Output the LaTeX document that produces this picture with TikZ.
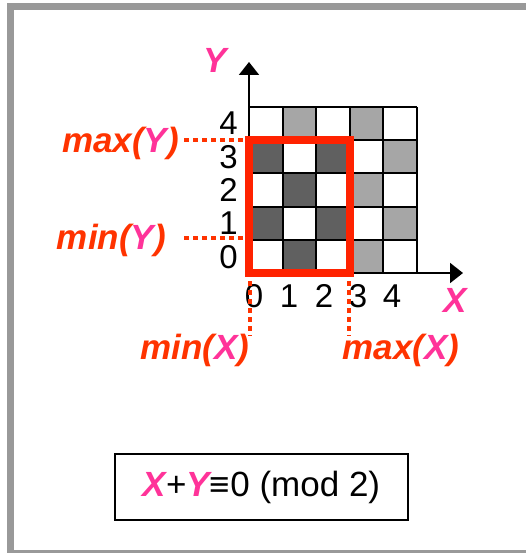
\documentclass[tikz,border=0pt]{standalone}
\usepackage{fontspec}
\setmainfont{Liberation Sans}
\usetikzlibrary{arrows.meta}
\definecolor{lblred}{HTML}{FF3300}
\definecolor{boxred}{HTML}{FF2200}
\definecolor{pinkc}{HTML}{FF3399}
\definecolor{darkc}{HTML}{606060}
\definecolor{lightc}{HTML}{A6A6A6}
\definecolor{framec}{HTML}{999999}
\tikzset{
  lbl/.style={font=\fontsize{35}{35}\selectfont\bfseries\itshape, text=lblred, inner sep=0pt},
  axlbl/.style={font=\fontsize{35}{35}\selectfont\bfseries\itshape, text=pinkc, inner sep=0pt},
  num/.style={font=\fontsize{33}{33}\selectfont, inner sep=0pt},
  dotline/.style={lblred, line width=4.5pt, dash pattern=on 4.5pt off 4.5pt},
  axis/.style={line width=2pt, -{Triangle[width=20pt,length=13pt]}},
}
\begin{document}
\begin{tikzpicture}[x=1pt,y=-1pt]
\useasboundingbox (0,0) rectangle (526,553);
\begin{scope}
\clip (0,0) rectangle (526,553);
\draw[framec, line width=7pt] (10.5,7) rectangle (540,553);
\end{scope}
% cells
\foreach \i in {0,...,4}{
  \foreach \j in {0,...,4}{
    \pgfmathtruncatemacro{\s}{mod(\i+\j,2)}
    \pgfmathtruncatemacro{\inside}{(\i<3)&&(\j<4)}
    \ifnum\s=1
      \ifnum\inside=1
        \fill[darkc] ({249+33.6*\i},{273-33.2*\j}) rectangle ({249+33.6*(\i+1)},{273-33.2*(\j+1)});
      \else
        \fill[lightc] ({249+33.6*\i},{273-33.2*\j}) rectangle ({249+33.6*(\i+1)},{273-33.2*(\j+1)});
      \fi
    \fi
  }
}
\foreach \i in {1,...,5}{
  \draw[line width=2pt] ({249+33.6*\i},107) -- ({249+33.6*\i},273);
}
\foreach \j in {1,...,5}{
  \draw[line width=2pt] (249,{273-33.2*\j}) -- (417,{273-33.2*\j});
}
% axes
\coordinate (O) at (249,273);
\coordinate (ytip) at (249,62);
\coordinate (xtip) at (463,273);
\draw[axis] (O) -- (ytip);
\draw[axis] (O) -- (xtip);
% red rectangle
\draw[boxred, line width=8pt] (249,140) rectangle (350,273);
% axis labels
\node[axlbl] (Y) at (215,60) {Y};
\node[axlbl] (X) at (455,300) {X};
% numbers
\foreach \n/\yy in {0/257,1/223.5,2/190,3/157,4/123.5}{
  \node[num, anchor=east] (yn\n) at (238,\yy) {\n};
}
\foreach \n/\xx in {0/254,1/289,2/324,3/358,4/392}{
  \node[num] (xn\n) at (\xx,296) {\n};
}
% labels
\node[lbl, anchor=east] (maxY) at (179,143) {max(\textcolor{pinkc}{Y})};
\node[lbl, anchor=east] (minY) at (166,240) {min(\textcolor{pinkc}{Y})};
\node[lbl] (minX) at (195,350) {min(\textcolor{pinkc}{X})};
\node[lbl] (maxX) at (401,350) {max(\textcolor{pinkc}{X})};
% dotted leaders
\coordinate (a1) at (184,140); \coordinate (a2) at (244,140);
\coordinate (b1) at (184,238); \coordinate (b2) at (244,238);
\coordinate (c1) at (250,281); \coordinate (c2) at (250,336);
\coordinate (d1) at (349,281); \coordinate (d2) at (349,336);
\draw[dotline] (a1) -- (a2);
\draw[dotline] (b1) -- (b2);
\draw[dotline] (c1) -- (c2);
\draw[dotline] (d1) -- (d2);
% formula box
\node[draw, line width=2pt, minimum width=293pt, minimum height=66pt, inner sep=0pt,
      font=\fontsize{35}{35}\selectfont] (formula) at (261.5,487)
  {\textcolor{pinkc}{\bfseries\itshape X}+\textcolor{pinkc}{\bfseries\itshape Y}\textbf{≡}0 (mod 2)};
\end{tikzpicture}
\end{document}
